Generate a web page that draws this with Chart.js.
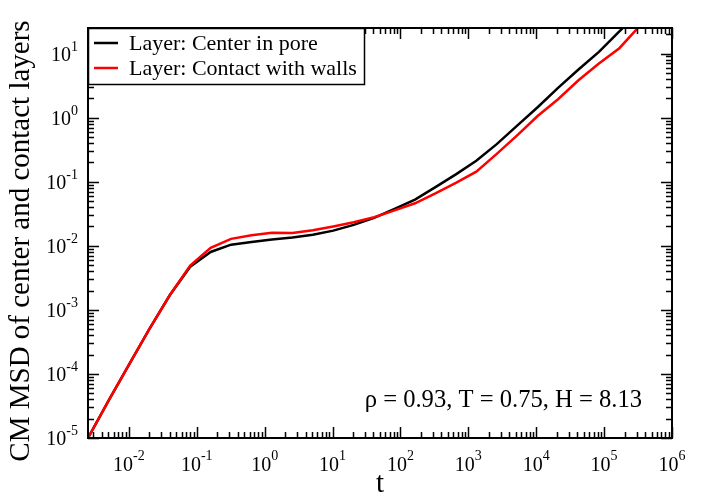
<!DOCTYPE html>
<html>
<head>
<meta charset="utf-8">
<script src="https://cdn.jsdelivr.net/npm/chart.js@4.4.1/dist/chart.umd.min.js"></script>
<style>
  html, body { margin: 0; padding: 0; background: #fff; }
  #wrap { width: 704px; height: 494px; position: relative; }
</style>
</head>
<body>
<div id="wrap"><canvas id="c" width="704" height="494"></canvas></div>
<script>
// ---- data ----
const timeValues = [0.0025, 0.005, 0.01, 0.02, 0.04, 0.08, 0.16, 0.32, 0.64, 1.28, 2.56, 5.12,
  10.24, 20.48, 40.96, 81.92, 163.84, 327.68, 655.36, 1310.72, 2621.44, 5242.88,
  10485.76, 20971.52, 41943.04, 83886.08, 167772.16, 335544.32];
const msdCenter = [1.0e-5, 3.8e-5, 1.38e-4, 5.0e-4, 1.69e-3, 4.7e-3, 8.0e-3, 1.04e-2, 1.145e-2, 1.25e-2, 1.346e-2, 1.48e-2,
  1.72e-2, 2.12e-2, 2.72e-2, 3.75e-2, 5.26e-2, 8.2e-2, 0.13, 0.212, 0.385, 0.75,
  1.45, 2.91, 5.62, 10.6, 22.1, 46];
const msdContact = [1.0e-5, 3.8e-5, 1.38e-4, 5.0e-4, 1.69e-3, 4.9e-3, 9.3e-3, 1.28e-2, 1.455e-2, 1.60e-2, 1.58e-2, 1.75e-2,
  2.00e-2, 2.32e-2, 2.79e-2, 3.56e-2, 4.6e-2, 6.56e-2, 9.6e-2, 0.1435, 0.271, 0.528,
  1.057, 1.93, 3.83, 6.97, 12.1, 27];
const seriesNames = ['Layer: Center in pore', 'Layer: Contact with walls'];
const seriesColors = ['#000000', '#ff0000'];
const xTickPowers = [-2, -1, 0, 1, 2, 3, 4, 5, 6];
const yTickPowers = [-5, -4, -3, -2, -1, 0, 1];
const xTitle = 't';
const yTitle = 'CM MSD of center and contact layers';
const annotationText = 'ρ = 0.93, T = 0.75, H = 8.13';
const X_MIN = 0.0025, X_MAX = 1e6, Y_MIN = 1e-5, Y_MAX = 25;

const SERIF = '"Liberation Serif", "Times New Roman", serif';

function toPoints(ys) { return timeValues.map((t, i) => ({ x: t, y: ys[i] })); }

const decor = {
  id: 'decor',
  afterDatasetsDraw(chart) {
    const ctx = chart.ctx, a = chart.chartArea;
    const xs = chart.scales.x, ys = chart.scales.y;
    ctx.save();
    ctx.strokeStyle = '#000';
    ctx.fillStyle = '#000';
    // tick marks (inward, all sides)
    ctx.lineWidth = 1.5;
    ctx.beginPath();
    for (let p = -3; p <= 6; p++) {
      for (let m = 1; m <= 9; m++) {
        const v = m * Math.pow(10, p);
        if (v < X_MIN * 0.999 || v > X_MAX * 1.001) continue;
        const px = Math.round(xs.getPixelForValue(v)) + 0.5;
        const L = m === 1 ? 11 : 6;
        ctx.moveTo(px, a.bottom); ctx.lineTo(px, a.bottom - L);
        ctx.moveTo(px, a.top); ctx.lineTo(px, a.top + L);
      }
    }
    for (let p = -5; p <= 1; p++) {
      for (let m = 1; m <= 9; m++) {
        const v = m * Math.pow(10, p);
        if (v < Y_MIN * 0.999 || v > Y_MAX * 1.001) continue;
        const py = Math.round(ys.getPixelForValue(v)) + 0.5;
        const L = m === 1 ? 11 : 6;
        ctx.moveTo(a.left, py); ctx.lineTo(a.left + L, py);
        ctx.moveTo(a.right, py); ctx.lineTo(a.right - L, py);
      }
    }
    ctx.stroke();
    // frame
    ctx.lineWidth = 2;
    ctx.strokeRect(a.left, a.top, a.right - a.left, a.bottom - a.top);

    // x tick labels
    ctx.textBaseline = 'alphabetic';
    ctx.textAlign = 'left';
    xTickPowers.forEach(p => {
      const px = xs.getPixelForValue(Math.pow(10, p));
      ctx.font = '20px ' + SERIF;
      const w10 = ctx.measureText('10').width;
      ctx.font = '14px ' + SERIF;
      const ex = String(p);
      const we = ctx.measureText(ex).width;
      const x0 = px - (w10 + we) / 2;
      ctx.font = '20px ' + SERIF;
      ctx.fillText('10', x0, a.bottom + 33);
      ctx.font = '14px ' + SERIF;
      ctx.fillText(ex, x0 + w10, a.bottom + 22);
    });
    // y tick labels
    yTickPowers.forEach(p => {
      const py = ys.getPixelForValue(Math.pow(10, p));
      ctx.font = '14px ' + SERIF;
      const ex = String(p);
      const we = ctx.measureText(ex).width;
      ctx.font = '20px ' + SERIF;
      const w10 = ctx.measureText('10').width;
      const xr = a.left - 10;
      ctx.fillText('10', xr - we - w10, py + 7);
      ctx.font = '14px ' + SERIF;
      ctx.fillText(ex, xr - we, py - 3);
    });
    // axis titles
    ctx.font = '29px ' + SERIF;
    ctx.textAlign = 'center';
    ctx.fillText(xTitle, (a.left + a.right) / 2, 492);
    ctx.save();
    ctx.translate(29, (a.top + a.bottom) / 2 + 8);
    ctx.rotate(-Math.PI / 2);
    ctx.textBaseline = 'alphabetic';
    ctx.fillText(yTitle, 0, 0);
    ctx.restore();

    // annotation
    ctx.font = '24.6px ' + SERIF;
    ctx.textAlign = 'right';
    ctx.fillText(annotationText, 642, 407);

    // legend
    const lx = a.left, ly = a.top, lw = 276, lh = 56;
    ctx.fillStyle = '#fff';
    ctx.fillRect(lx, ly, lw, lh);
    ctx.lineWidth = 1.5;
    ctx.strokeStyle = '#000';
    ctx.strokeRect(lx + 0.5, ly + 0.5, lw, lh);
    ctx.font = '22px ' + SERIF;
    ctx.textAlign = 'left';
    seriesNames.forEach((name, i) => {
      const yy = ly + 15 + i * 25;
      ctx.strokeStyle = seriesColors[i];
      ctx.lineWidth = 2.5;
      ctx.beginPath();
      ctx.moveTo(lx + 6, yy); ctx.lineTo(lx + 30, yy);
      ctx.stroke();
      ctx.fillStyle = '#000';
      ctx.fillText(name, lx + 41, yy + 7);
    });
    ctx.restore();
  }
};

new Chart(document.getElementById('c'), {
  type: 'line',
  data: {
    datasets: [
      { label: seriesNames[0], data: toPoints(msdCenter), borderColor: seriesColors[0], borderWidth: 2.5, pointRadius: 0, tension: 0, fill: false, order: 1, clip: 0 },
      { label: seriesNames[1], data: toPoints(msdContact), borderColor: seriesColors[1], borderWidth: 2.5, pointRadius: 0, tension: 0, fill: false, order: 0, clip: 0 }
    ]
  },
  options: {
    responsive: false,
    animation: false,
    layout: { padding: { left: 88, right: 32, top: 28, bottom: 56 } },
    plugins: { legend: { display: false }, tooltip: { enabled: false }, title: { display: false } },
    scales: {
      x: { type: 'logarithmic', min: X_MIN, max: X_MAX, display: false },
      y: { type: 'logarithmic', min: Y_MIN, max: Y_MAX, display: false }
    }
  },
  plugins: [decor]
});
</script>
</body>
</html>
